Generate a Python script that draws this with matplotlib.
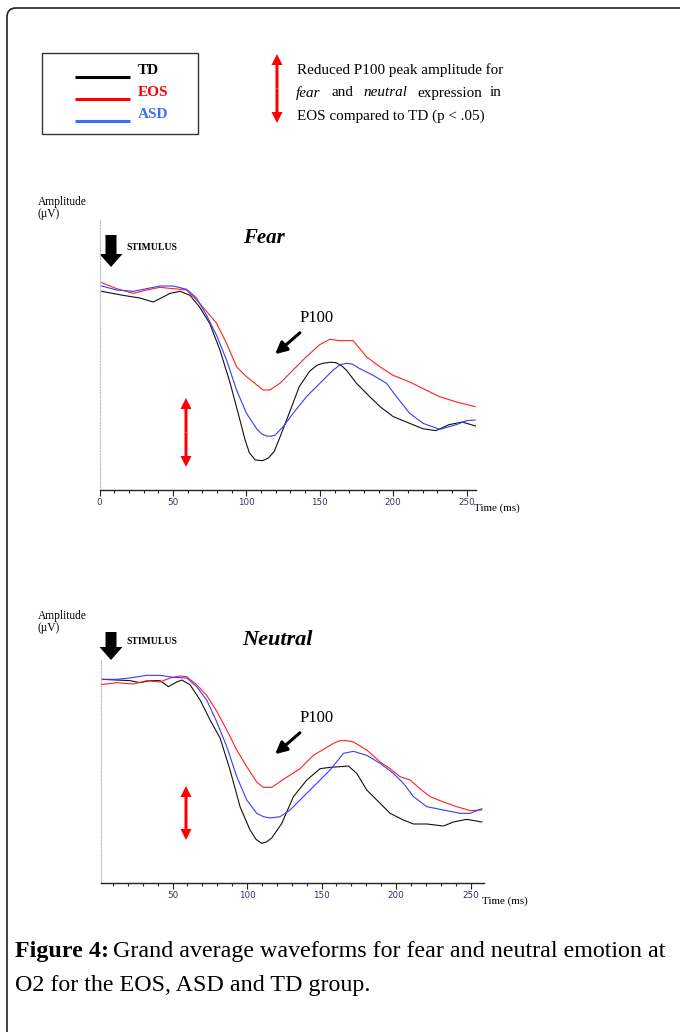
import numpy as np
import matplotlib
matplotlib.use('Agg')
import matplotlib.pyplot as plt
from matplotlib.patches import FancyBboxPatch, FancyArrow, Rectangle
from matplotlib.ticker import MultipleLocator

# ---- data (ms, arbitrary uV) ----
fear_td_t = [1.5, 16, 27.5, 36.6, 42, 48, 55, 61.6, 68, 75, 82, 89, 95.6, 99, 102, 106, 111, 115, 119, 123, 130,
             136, 143, 148, 152, 157, 161, 165, 168, 175, 184, 191, 200, 209, 220, 229, 238, 247, 256]
fear_td_v = [8.9, 8.6, 8.4, 8.1, 8.4, 8.75, 8.9, 8.6, 7.75, 6.5, 4.5, 2.0, -0.75, -2.2, -3.2, -3.75, -3.8,
             -3.6, -3.1, -2.0, 0.0, 1.75, 2.9, 3.35, 3.5, 3.58, 3.55, 3.3, 3.0, 2.0, 1.0, 0.25, -0.5, -0.9,
             -1.4, -1.55, -1.1, -0.9, -1.2]

fear_eos_t = [1.5, 11.7, 23, 32.1, 41.2, 50.2, 59.3, 66.1, 72.9, 79.7, 86.5, 93.3, 100.1, 106.9, 111.4, 116,
              122.8, 131.8, 140.9, 150, 156.8, 163.6, 172.7, 181.7, 190.8, 199.9, 211.2, 220.3, 231.6, 243, 255.8]
fear_eos_v = [9.55, 9.1, 8.75, 9.0, 9.2, 9.1, 9.0, 8.25, 7.4, 6.5, 5.0, 3.25, 2.5, 1.9, 1.5, 1.5, 2.0, 3.0,
              4.0, 4.9, 5.3, 5.2, 5.2, 4.0, 3.25, 2.6, 2.1, 1.6, 1.0, 0.6, 0.25]

fear_asd_t = [1.5, 11.7, 23, 32.1, 41.2, 50.2, 59.3, 66.1, 72.9, 79.7, 86.5, 93.3, 100.1, 106.9, 110.5, 113.7,
              116.5, 119.4, 125.1, 131.8, 140.9, 150, 159.1, 164, 168.1, 172, 177.2, 186.3, 195.4, 202.2, 211.2,
              220.3, 231.6, 243, 249.8, 255.8]
fear_asd_v = [9.3, 9.0, 8.9, 9.1, 9.3, 9.3, 9.05, 8.4, 7.1, 5.6, 3.75, 1.5, -0.25, -1.4, -1.8, -1.95, -1.97,
              -1.9, -1.25, -0.25, 1.0, 2.0, 3.0, 3.4, 3.5, 3.45, 3.1, 2.6, 2.0, 1.0, -0.25, -1.0, -1.45, -1.1,
              -0.8, -0.75]

neut_td_t = [2, 12.5, 21.5, 28.2, 34.9, 41.6, 47.2, 52.8, 56.2, 61.7, 68.5, 75.2, 81.9, 88.6, 95.3, 102, 106,
             109.8, 113, 116.6, 123.3, 131.1, 140.1, 149, 155.7, 162.4, 168, 173.6, 180.3, 189.3, 196, 204.9,
             211.7, 220.6, 231.8, 238.5, 247.4, 257.5]
neut_td_v = [9.8, 9.75, 9.7, 9.55, 9.7, 9.7, 9.25, 9.6, 9.75, 9.4, 8.25, 6.75, 5.4, 3.0, 0.25, -1.5, -2.2,
             -2.5, -2.4, -2.1, -1.0, 1.0, 2.25, 3.1, 3.2, 3.25, 3.3, 2.75, 1.5, 0.5, -0.25, -0.75, -1.05,
             -1.05, -1.2, -0.9, -0.7, -0.9]

neut_eos_t = [2, 12.5, 23.7, 32.7, 41.6, 48.3, 55, 59.5, 66.2, 72.9, 79.7, 86.4, 93.1, 99.8, 106.5, 110.9,
              116.6, 124.4, 135.6, 144.5, 153.5, 158, 162.4, 167, 171.4, 180.3, 189.3, 196, 202.7, 209.4, 216.1,
              222.8, 231.8, 240.7, 249.7, 257.5]
neut_eos_v = [9.4, 9.55, 9.45, 9.7, 9.6, 9.9, 10.05, 10.0, 9.4, 8.6, 7.4, 6.0, 4.5, 3.25, 2.1, 1.7, 1.7, 2.3,
              3.1, 4.1, 4.7, 5.0, 5.2, 5.2, 5.1, 4.5, 3.6, 3.1, 2.5, 2.25, 1.6, 1.0, 0.6, 0.25, -0.05, 0.0]

neut_asd_t = [2, 12.5, 21.5, 32.7, 41.6, 50.6, 59.5, 66.2, 72.9, 79.7, 86.4, 93.1, 99.8, 106.5, 111, 115.5,
              122.2, 128.9, 137.8, 146.8, 155.7, 164.7, 171.4, 180.3, 189.3, 198.2, 204.9, 211.7, 220.6, 231.8,
              243, 249.7, 257.5]
neut_asd_v = [9.8, 9.8, 9.9, 10.1, 10.1, 9.95, 9.9, 9.25, 8.25, 6.6, 4.75, 2.5, 0.75, -0.25, -0.5, -0.6, -0.5,
              0.0, 1.0, 2.0, 3.0, 4.25, 4.4, 4.1, 3.5, 2.75, 2.0, 1.0, 0.25, 0.0, -0.25, -0.25, 0.1]

groups = ['TD', 'EOS', 'ASD']
colors = {'TD': '#111111', 'EOS': '#ff2020', 'ASD': '#3a3aff'}
legend_colors = {'TD': '#000000', 'EOS': '#ff0000', 'ASD': '#3d6dff'}

W, H = 680, 1032
fig = plt.figure(figsize=(W / 100, H / 100), dpi=100)
serif = 'Liberation Serif'

# overlay in pixel coords for decorations
ov = fig.add_axes([0, 0, 1, 1])
ov.set_xlim(0, W)
ov.set_ylim(H, 0)
ov.axis('off')
ov.add_patch(FancyBboxPatch((7, 8), 700, 1100, boxstyle='round,pad=0,rounding_size=9',
                            fc='none', ec='#222222', lw=1.2))

# legend box
ov.add_patch(Rectangle((42, 53), 156, 81, fc='none', ec='#333333', lw=1.0))
for i, g in enumerate(groups):
    y = 77 + i * 22
    ov.plot([75, 130], [y, y], color=legend_colors[g], lw=2.2, solid_capstyle='butt')
    ov.text(138, y - 6, g, color=legend_colors[g], fontsize=11, fontweight='bold',
            family=serif, va='center', ha='left')


def double_arrow(x, y0, y1, hw=11, hl=11, lw=3):
    ov.add_patch(FancyArrow(x, (y0 + y1) / 2, 0, (y0 - y1) / 2, width=lw, head_width=hw, head_length=hl,
                            length_includes_head=True, color='red', lw=0))
    ov.add_patch(FancyArrow(x, (y0 + y1) / 2, 0, (y1 - y0) / 2, width=lw, head_width=hw, head_length=hl,
                            length_includes_head=True, color='red', lw=0))


double_arrow(277, 54, 123)

# note text, justified by hand
fs_note = 10.9
ov.text(297, 70, 'Reduced P100 peak amplitude for', fontsize=fs_note, family=serif, va='center')
ov.text(296, 93, 'fear', fontsize=fs_note, family=serif, style='italic', va='center')
ov.text(332, 93, 'and', fontsize=fs_note, family=serif, va='center')
ov.text(363, 93, 'neutral', fontsize=fs_note, family=serif, style='italic', va='center')
ov.text(417, 93, 'expression', fontsize=fs_note, family=serif, va='center')
ov.text(502, 93, 'in', fontsize=fs_note, family=serif, va='center', ha='right')
ov.text(297, 116, 'EOS compared to TD (p < .05)', fontsize=fs_note, family=serif, va='center')

# caption
fs_cap = 17.3
ov.text(15, 952, 'Figure 4:', fontsize=fs_cap, family=serif, fontweight='bold', va='center')
ov.text(113, 952, 'Grand average waveforms for fear and neutral emotion at', fontsize=fs_cap,
        family=serif, va='center')
ov.text(15, 985, 'O2 for the EOS, ASD and TD group.', fontsize=fs_cap, family=serif, va='center')


def panel(rect, xlim, ylim, data, title, off):
    ax = fig.add_axes([rect[0] / W, 1 - rect[1] / H - rect[3] / H, rect[2] / W, rect[3] / H])
    for g, (t, v) in zip(groups, data):
        ax.plot(t, v, color=colors[g], lw=0.8)
    ax.set_xlim(*xlim)
    ax.set_ylim(*ylim)
    for s in ['top', 'right']:
        ax.spines[s].set_visible(False)
    ax.spines['left'].set_linestyle((0, (1, 1.5)))
    ax.spines['left'].set_color('#bbbbbb')
    ax.spines['left'].set_linewidth(0.8)
    ax.spines['bottom'].set_color('#222222')
    ax.spines['bottom'].set_linewidth(1.0)
    ax.set_yticks([])
    ax.xaxis.set_major_locator(MultipleLocator(50))
    ax.xaxis.set_minor_locator(MultipleLocator(10))
    ax.tick_params(axis='x', which='major', length=4, width=0.8, colors='#222222', pad=2,
                   labelsize=6.3, labelcolor='#3a2d6a')
    ax.tick_params(axis='x', which='minor', length=2, width=0.8, colors='#222222')
    ax.patch.set_alpha(0)

    # annotations (pixel coordinates)
    top = rect[1]
    ov.text(38, top + off[7], 'Amplitude\n(\u00b5V)', fontsize=8.3, family=serif, va='center',
            ha='left', linespacing=0.9)
    ov.add_patch(FancyArrow(111, top + off[0], 0, off[1], width=11, head_width=23, head_length=13,
                            length_includes_head=True, color='black', lw=0))
    ov.text(126, top + off[2], 'STIMULUS', fontsize=6.9, family=serif, fontweight='bold', va='center')
    ov.text(title[1], top + off[3], title[0], fontsize=title[2], family=serif, fontweight='bold',
            style='italic', va='center')
    ov.text(300, top + off[4], 'P100', fontsize=12, family=serif, va='center')
    ov.annotate('', xy=(273, top + off[4] + 38), xytext=(302, top + off[4] + 13),
                arrowprops=dict(arrowstyle='-|>,head_width=0.35,head_length=0.7', color='black', lw=2.2))
    double_arrow(186, top + off[5], top + off[6])
    ov.text(rect[0] + rect[2] - 2, rect[1] + rect[3] + 18, 'Time (ms)', fontsize=7.9, family=serif,
            va='center', ha='left')
    return ax


panel((99.5, 220, 376, 270), (0, 256), (-6, 14.25),
      [(fear_td_t, fear_td_v), (fear_eos_t, fear_eos_v), (fear_asd_t, fear_asd_v)],
      ('Fear', 243, 15), (15, 32, 27, 18, 98, 178, 247, -12))
panel((101, 660, 383, 223), (2, 259), (-5.475, 11.25),
      [(neut_td_t, neut_td_v), (neut_eos_t, neut_eos_v), (neut_asd_t, neut_asd_v)],
      ('Neutral', 242, 16), (-28, 28, -18, -20, 58, 126, 180, -38))

fig.savefig('out.png', dpi=100)
